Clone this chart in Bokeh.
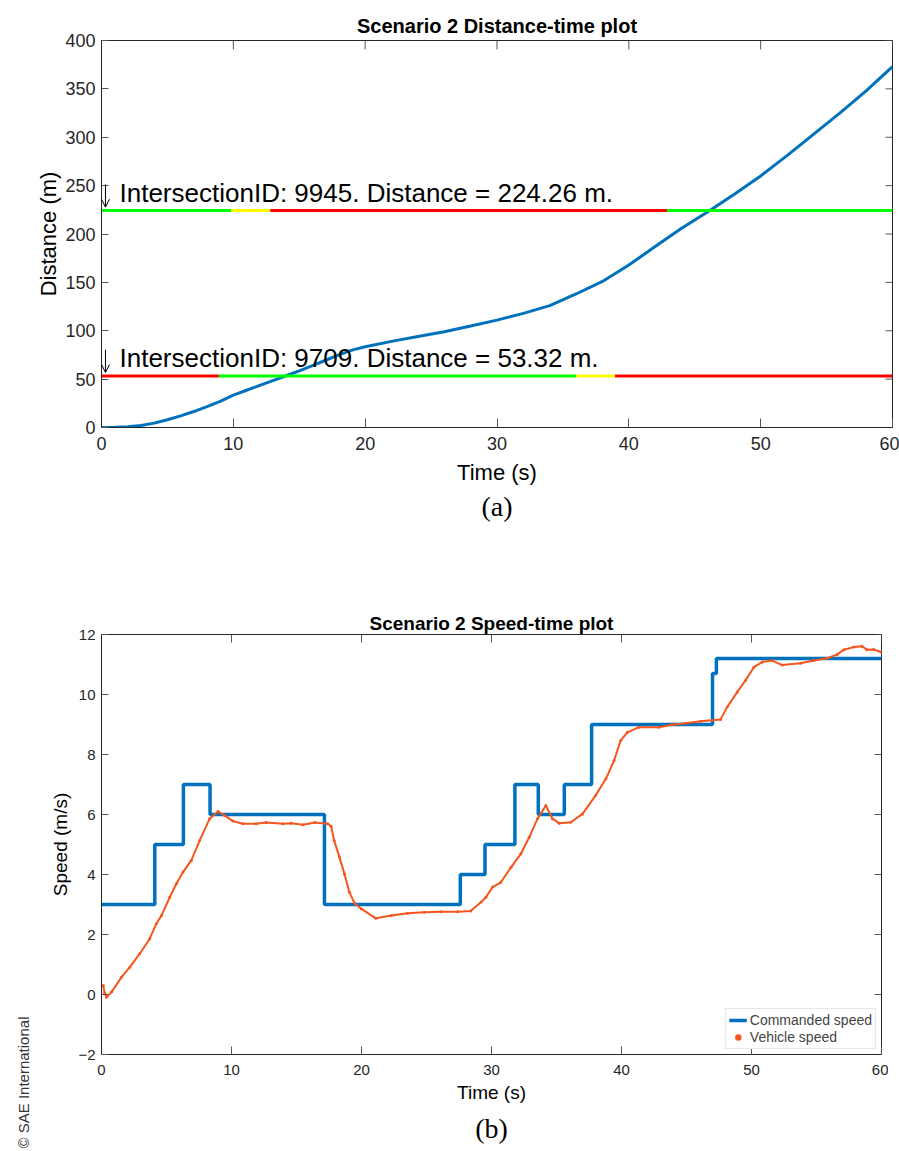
import math
from bokeh.plotting import figure
from bokeh.models import Range1d, Label, Legend, LegendItem, FixedTicker, Title, Arrow, OpenHead
from bokeh.layouts import column
from bokeh.embed import file_html
from bokeh.resources import INLINE

# ---------------- data ----------------
# (a) distance-time
dist_time = [0, 1, 2, 3, 4, 5, 6, 7, 8, 9, 10, 11, 12, 13, 14, 15, 16, 17, 18, 19, 20,
             22, 24, 26, 28, 30, 32, 34, 36, 38, 40, 42, 44, 46, 48, 50, 52, 54, 56, 58, 60]
dist_m = [0, 0.2, 0.8, 2, 4.5, 8, 12, 16.5, 21.5, 27, 33.5, 38.5, 43.5, 48.5, 53.5, 58.5, 64,
          69.5, 75, 80, 83.5, 89, 94, 99, 105, 111, 118, 126, 138, 151, 168, 187, 206, 223,
          241, 260, 281, 303, 325, 348, 373]

intersection_ids = [9945, 9709]
intersection_dist = [224.26, 53.32]
# signal phase boundaries (s) and phase colours for each intersection
sig_bounds = [[0, 9.85, 12.8, 42.9, 60],
              [0, 8.9, 36.0, 38.95, 60]]
sig_phases = [["green", "yellow", "red", "green"],
              ["red", "green", "yellow", "red"]]

x_ticks = [0, 10, 20, 30, 40, 50, 60]
dist_ticks = [0, 50, 100, 150, 200, 250, 300, 350, 400]
speed_ticks = [-2, 0, 2, 4, 6, 8, 10, 12]

# (b) speed-time
cmd_time = [0, 4.1, 6.3, 8.35, 17.15, 27.6, 29.5, 31.8, 33.6, 35.6, 37.7, 47.0, 47.3, 60]
cmd_speed = [3, 5, 7, 6, 3, 4, 5, 7, 6, 7, 9, 10.7, 11.2, 11.2]

veh_time = [0.13, 0.25, 0.38, 0.77, 1.54, 2.18, 2.94, 3.71, 4.22, 4.61, 5.25, 5.76, 6.27, 6.91,
            7.55, 8.32, 8.96, 9.47, 10.11, 10.88, 11.9, 12.67, 13.95, 14.6, 15.5, 16.4, 17.4,
            17.67, 17.9, 18.3, 18.69, 19.07, 19.46, 19.97, 21.1, 22.3, 23.55, 24.83, 26.1, 27.4,
            28.4, 29.2, 29.57, 30.08, 30.72, 31.5, 32.26, 32.9, 33.54, 34.18, 34.69, 35.2, 36.1,
            37.0, 38.0, 38.8, 39.43, 39.94, 40.45, 41.35, 42.88, 43.9, 44.93, 46.08, 47.62, 48.13,
            48.9, 49.54, 50.18, 50.82, 51.59, 52.36, 53.76, 54.79, 55.81, 56.58, 57.1, 57.86, 58.5,
            58.88, 59.4, 60]
veh_speed = [0.3, 0.04, -0.09, 0.08, 0.58, 0.91, 1.36, 1.86, 2.36, 2.63, 3.24, 3.69, 4.08, 4.47,
             5.13, 5.86, 6.1, 5.97, 5.78, 5.69, 5.69, 5.73, 5.69, 5.71, 5.66, 5.73, 5.69,
             5.6, 5.13, 4.58, 4.02, 3.41, 3.04, 2.86, 2.54, 2.63, 2.71, 2.74, 2.76, 2.76,
             2.78, 3.08, 3.24, 3.58, 3.74, 4.24, 4.69, 5.24, 5.86, 6.3, 5.86, 5.71, 5.74,
             6.02, 6.63, 7.19, 7.8, 8.47, 8.74, 8.91, 8.91, 8.99, 9.04, 9.11, 9.17, 9.58,
             10.08, 10.47, 10.91, 11.08, 11.13, 10.98, 11.04, 11.13, 11.21, 11.33, 11.49, 11.58, 11.61,
             11.49, 11.5, 11.41]

# ---------------- styles ----------------
FONT = "Liberation Sans"
BLUE = "#0072BD"
ORANGE = "#F5561E"
PHASE_COLOR = {"green": "#00FF00", "yellow": "#FFFF00", "red": "#FF0000"}
AX = "#262626"
TICK = "#555555"


def style_axes(p, xt, yt, tick_fs, label_fs, ytick_in, xtick_in):
    p.xaxis.ticker = FixedTicker(ticks=xt)
    p.yaxis.ticker = FixedTicker(ticks=yt)
    for ax in list(p.xaxis) + list(p.yaxis):
        ax.major_label_text_font = FONT
        ax.major_label_text_font_size = tick_fs
        ax.major_label_text_color = AX
        ax.axis_label_text_font = FONT
        ax.axis_label_text_font_size = label_fs
        ax.axis_label_text_font_style = "normal"
        ax.axis_label_text_color = "#000000"
        ax.minor_tick_line_color = None
        ax.major_tick_out = 0
        ax.major_tick_line_color = TICK
        ax.axis_line_color = AX
    p.xaxis.major_tick_in = xtick_in
    p.yaxis.major_tick_in = ytick_in
    p.outline_line_color = AX
    # inward ticks on the top and right edges of the box
    xr, yr = p.x_range, p.y_range
    p.ray(x=xt, y=[yr.end] * len(xt), length=xtick_in, length_units="screen",
          angle=-math.pi / 2, line_color=TICK, line_width=1)
    p.ray(x=[xr.end] * len(yt), y=yt, length=ytick_in, length_units="screen",
          angle=math.pi, line_color=TICK, line_width=1)


def style_title(p, size, standoff):
    p.title.text_font = FONT
    p.title.text_font_size = size
    p.title.text_font_style = "bold"
    p.title.text_color = "#000000"
    p.title.align = "center"
    p.title.standoff = standoff


# ---------------- (a) ----------------
p1 = figure(width=899, height=560, output_backend="svg", toolbar_location=None,
            x_range=Range1d(0, 60), y_range=Range1d(0, 400),
            min_border_left=100, min_border_right=7, min_border_top=40, min_border_bottom=133,
            title="Scenario 2 Distance-time plot")
p1.grid.visible = False
style_title(p1, "20px", 7)
p1.xaxis.axis_label = "Time (s)"
p1.yaxis.axis_label = "Distance (m)"
style_axes(p1, x_ticks, dist_ticks, "18px", "22px", 7, 9)
p1.xaxis.major_label_standoff = 9
p1.yaxis.major_label_standoff = 6
p1.xaxis.axis_label_standoff = 7
p1.yaxis.axis_label_standoff = 1

p1.line(dist_time, dist_m, line_width=3, color=BLUE)

for k in range(len(intersection_ids)):
    b = sig_bounds[k]
    ph = sig_phases[k]
    d = intersection_dist[k]
    p1.segment(x0=b[:-1], x1=b[1:], y0=[d] * len(ph), y1=[d] * len(ph),
               line_width=3, color=[PHASE_COLOR[c] for c in ph])
    p1.add_layout(Arrow(end=OpenHead(size=8, line_width=1, line_color="#000000"),
                        x_start=0.3, y_start=d + 27, x_end=0.3, y_end=d + 3.5,
                        line_width=1, line_color="#000000"))
    p1.add_layout(Label(x=0, y=d + 18, x_offset=18,
                        text="IntersectionID: %d. Distance = %.2f m." % (intersection_ids[k], d),
                        text_font=FONT, text_font_size="26px", text_color="#000000",
                        text_baseline="alphabetic", text_align="left"))

p1.add_layout(Title(text="(a)", align="center", offset=-24, standoff=2,
                    text_font="Liberation Serif", text_font_size="28px",
                    text_font_style="normal", text_color="#000000"), "below")

# ---------------- (b) ----------------
p2 = figure(width=888, height=591, output_backend="svg", toolbar_location=None,
            x_range=Range1d(0, 60), y_range=Range1d(-2, 12),
            min_border_left=100, min_border_right=7, min_border_top=74, min_border_bottom=97,
            title="Scenario 2 Speed-time plot")
p2.grid.visible = False
style_title(p2, "19px", 1)
p2.xaxis.axis_label = "Time (s)"
p2.yaxis.axis_label = "Speed (m/s)"
style_axes(p2, x_ticks, speed_ticks, "15px", "19px", 7, 8)
p2.yaxis.major_label_overrides = {-2: "\u22122"}
p2.xaxis.major_label_standoff = 10
p2.yaxis.major_label_standoff = 6
p2.xaxis.axis_label_standoff = 4
p2.yaxis.axis_label_standoff = 4

r_cmd = p2.step(cmd_time, cmd_speed, mode="after", line_width=3.5, color=BLUE)
r_vline = p2.line(veh_time, veh_speed, line_width=2, color=ORANGE)
r_vdot = p2.scatter(veh_time, veh_speed, size=3, color=ORANGE, line_color=None)

legend = Legend(items=[LegendItem(label="Commanded speed", renderers=[r_cmd]),
                       LegendItem(label="Vehicle speed", renderers=[r_vdot])],
                location="bottom_right", margin=5, padding=3, spacing=1,
                label_text_font=FONT, label_text_font_size="14px",
                label_standoff=3, glyph_width=18, glyph_height=16, label_height=16,
                border_line_color="#D0D0D0", background_fill_color="white",
                background_fill_alpha=1)
p2.add_layout(legend)

p2.add_layout(Title(text="(b)", align="center", offset=-18, standoff=11,
                    text_font="Liberation Serif", text_font_size="28px",
                    text_font_style="normal", text_color="#000000"), "below")
p2.add_layout(Title(text="\u00a9 SAE International", align="left", offset=-94, standoff=28,
                    vertical_align="top",
                    text_font=FONT, text_font_size="15px", text_font_style="normal",
                    text_color="#333333"), "left")

layout = column(p1, p2, spacing=0)
open("out.html", "w").write(file_html(layout, INLINE))
